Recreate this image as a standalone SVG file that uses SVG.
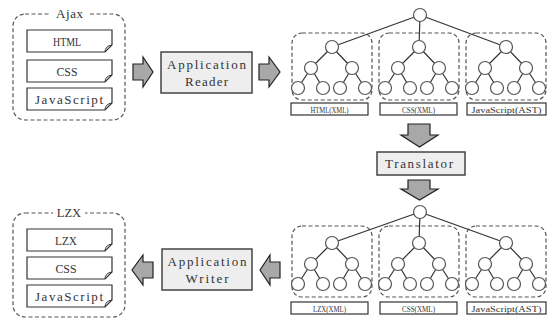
<svg xmlns="http://www.w3.org/2000/svg" width="548" height="320" viewBox="0 0 548 320">
<defs>
<style>
.dash{fill:none;stroke:#555;stroke-width:1.2;stroke-dasharray:4 2.5}
.doc{fill:#fff;stroke:#333;stroke-width:1.2}
.fold{fill:none;stroke:#333;stroke-width:1}
.arrow{fill:#a8a8a8;stroke:#222;stroke-width:1.2;stroke-linejoin:miter}
.proc{fill:#eeeeee;stroke:#444;stroke-width:1.5}
.lbl{fill:#fff;stroke:#333;stroke-width:1.2}
.edge{stroke:#333;stroke-width:1.2;fill:none}
.node{fill:#fff;stroke:#555;stroke-width:1.2}
.mono{font-family:"Liberation Serif","Times New Roman",serif;fill:#333}
.serif{font-family:"Liberation Serif","Times New Roman",serif;fill:#333}
.small{font-family:"Liberation Serif","Times New Roman",serif;font-size:9px;fill:#333}
</style>
<g id="docshape">
<path class="doc" d="M0,0 H85 V15 L78,22 H0 Z"/>
<path class="fold" d="M78,22 Q78,16 85,15 Q81,19 78,22"/>
</g>
<g id="subtree">
<path class="edge" d="M0,0 L-21,21 M0,0 L20,21 M-21,21 L-34,41 M-21,21 L-9,41 M20,21 L8,41 M20,21 L33,41"/>
<circle class="node" cx="0" cy="0" r="6.5"/>
<circle class="node" cx="-21" cy="21" r="6.5"/>
<circle class="node" cx="20" cy="21" r="6.5"/>
<circle class="node" cx="-34" cy="41" r="6.5"/>
<circle class="node" cx="-9" cy="41" r="6.5"/>
<circle class="node" cx="8" cy="41" r="6.5"/>
<circle class="node" cx="33" cy="41" r="6.5"/>
</g>
</defs>

<!-- Ajax group -->
<g id="ajax">
<rect class="dash" x="13" y="14" width="112" height="106" rx="12"/>
<rect x="50" y="6" width="38" height="14" fill="#fff"/>
<text class="mono" x="56" y="18" font-size="13" textLength="27" lengthAdjust="spacing">Ajax</text>
</g>
<g id="ajax-html">
<use href="#docshape" x="27" y="30"/>
<text class="serif" x="67" y="45.5" font-size="12.5" text-anchor="middle" textLength="28" lengthAdjust="spacingAndGlyphs">HTML</text>
</g>
<g id="ajax-css">
<use href="#docshape" x="27" y="60"/>
<text class="serif" x="67" y="75.5" font-size="12.5" text-anchor="middle" fill="#555" textLength="21" lengthAdjust="spacingAndGlyphs">CSS</text>
</g>
<g id="ajax-js">
<use href="#docshape" x="27" y="88"/>
<text class="mono" x="35" y="103.5" font-size="13" textLength="68" lengthAdjust="spacing">JavaScript</text>
</g>

<!-- Application Reader -->
<g id="reader">
<rect class="proc" x="161" y="52" width="91" height="41"/>
<text class="mono" x="167" y="69" font-size="13" textLength="79" lengthAdjust="spacing">Application</text>
<text class="mono" x="185" y="86" font-size="13" textLength="43" lengthAdjust="spacing">Reader</text>
</g>

<!-- Top tree -->
<g id="tree-top">
<rect class="dash" x="292" y="33" width="80" height="67" rx="10"/>
<rect class="dash" x="379" y="33" width="80" height="67" rx="10"/>
<rect class="dash" x="466" y="33" width="80" height="67" rx="10"/>
<path class="edge" d="M420,15 L332,47 M420,15 L419,47 M420,15 L506,47"/>
<circle class="node" cx="420" cy="15" r="6.5"/>
<use href="#subtree" x="332" y="47"/>
<use href="#subtree" x="419" y="47"/>
<use href="#subtree" x="506" y="47"/>
</g>
<g id="lbl-html">
<rect class="lbl" x="291" y="103" width="77" height="12"/>
<text class="small" x="329.5" y="112.5" text-anchor="middle" textLength="38" lengthAdjust="spacingAndGlyphs">HTML(XML)</text>
</g>
<g id="lbl-css1">
<rect class="lbl" x="380" y="103" width="77" height="12"/>
<text class="small" x="418.5" y="112.5" text-anchor="middle" textLength="33" lengthAdjust="spacingAndGlyphs">CSS(XML)</text>
</g>
<g id="lbl-js1">
<rect class="lbl" x="467" y="103" width="79" height="12"/>
<text class="small" x="506.5" y="112.5" text-anchor="middle" textLength="70" lengthAdjust="spacingAndGlyphs">JavaScript(AST)</text>
</g>

<!-- Translator -->
<g id="translator">
<rect class="proc" x="377" y="152" width="88" height="23"/>
<text class="mono" x="385" y="168" font-size="13" textLength="68" lengthAdjust="spacing">Translator</text>
</g>

<!-- Bottom tree -->
<g id="tree-bottom">
<rect class="dash" x="292" y="226" width="80" height="71" rx="10"/>
<rect class="dash" x="379" y="226" width="80" height="71" rx="10"/>
<rect class="dash" x="466" y="226" width="80" height="71" rx="10"/>
<path class="edge" d="M420,212 L332,243 M420,212 L419,243 M420,212 L506,243"/>
<circle class="node" cx="420" cy="212" r="6.5"/>
<use href="#subtree" x="332" y="243"/>
<use href="#subtree" x="419" y="243"/>
<use href="#subtree" x="506" y="243"/>
</g>
<g id="lbl-lzx">
<rect class="lbl" x="291" y="302" width="77" height="12"/>
<text class="small" x="329.5" y="311.5" text-anchor="middle" textLength="33" lengthAdjust="spacingAndGlyphs">LZX(XML)</text>
</g>
<g id="lbl-css2">
<rect class="lbl" x="380" y="302" width="77" height="12"/>
<text class="small" x="418.5" y="311.5" text-anchor="middle" textLength="33" lengthAdjust="spacingAndGlyphs">CSS(XML)</text>
</g>
<g id="lbl-js2">
<rect class="lbl" x="467" y="302" width="79" height="12"/>
<text class="small" x="506.5" y="311.5" text-anchor="middle" textLength="70" lengthAdjust="spacingAndGlyphs">JavaScript(AST)</text>
</g>

<!-- Application Writer -->
<g id="writer">
<rect class="proc" x="162" y="249" width="90" height="41"/>
<text class="mono" x="167.5" y="266" font-size="13" textLength="79" lengthAdjust="spacing">Application</text>
<text class="mono" x="185.5" y="283" font-size="13" textLength="43" lengthAdjust="spacing">Writer</text>
</g>

<!-- LZX group -->
<g id="lzx">
<rect class="dash" x="13" y="213" width="112" height="104" rx="12"/>
<rect x="53" y="205" width="32" height="14" fill="#fff"/>
<text class="serif" x="69" y="217" font-size="12.5" text-anchor="middle">LZX</text>
</g>
<g id="lzx-lzx">
<use href="#docshape" x="27" y="229"/>
<text class="serif" x="66" y="244.5" font-size="12.5" text-anchor="middle" textLength="22" lengthAdjust="spacingAndGlyphs">LZX</text>
</g>
<g id="lzx-css">
<use href="#docshape" x="27" y="257"/>
<text class="serif" x="66" y="272.5" font-size="12.5" text-anchor="middle" fill="#555" textLength="21" lengthAdjust="spacingAndGlyphs">CSS</text>
</g>
<g id="lzx-js">
<use href="#docshape" x="27" y="285"/>
<text class="mono" x="35" y="300.5" font-size="13" textLength="68" lengthAdjust="spacing">JavaScript</text>
</g>

<!-- Connectors (block arrows) -->
<g id="connectors">
<path class="arrow" d="M133,64 H143 V57 L153,72 L143,87 V80 H133 Z"/>
<path class="arrow" d="M259,64 H269 V57 L280,72 L269,87 V80 H259 Z"/>
<path class="arrow" d="M408,124 H430 V135 H438 L419.5,147 L401,135 H408 Z"/>
<path class="arrow" d="M408,180 H430 V189 H438 L419.5,200 L401,189 H408 Z"/>
<path class="arrow" d="M280,262 H270 V255 L260,270 L270,285 V278 H280 Z"/>
<path class="arrow" d="M153,262 H143 V255 L132,270 L143,285 V278 H153 Z"/>
</g>
</svg>
